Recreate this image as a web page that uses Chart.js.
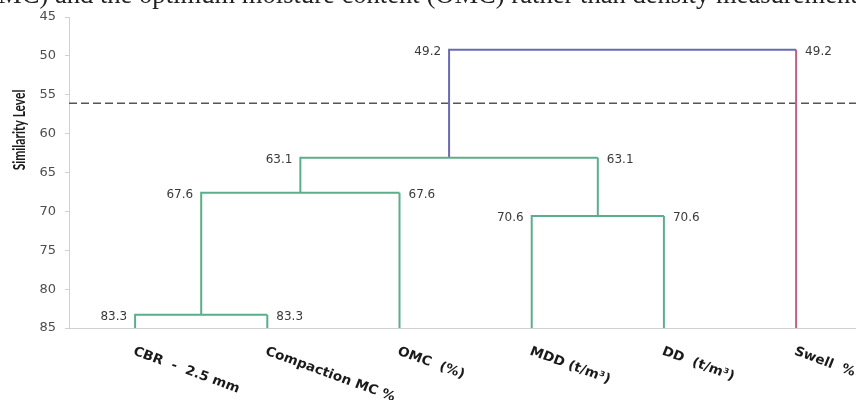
<!DOCTYPE html>
<html>
<head>
<meta charset="utf-8">
<script src="https://cdn.jsdelivr.net/npm/chart.js@4.4.1/dist/chart.umd.min.js"></script>
<style>
html, body { margin: 0; padding: 0; background: #fff; overflow: hidden; }
#wrap { position: relative; width: 856px; height: 400px; }
#cap { position: absolute; left: -2px; top: -19px; font: 26.6px 'Liberation Serif', serif; line-height: 27px; color: #222; white-space: nowrap; z-index: 2; }
</style>
</head>
<body>
<div id="wrap">
  <canvas id="plot" width="856" height="400"></canvas>
  <div id="cap">MC) and the optimum moisture content (OMC) rather than density measurements</div>
</div>
<script>
// leaves of the dendrogram (x axis)
const leaves = ['CBR  -  2.5 mm', 'Compaction MC %', 'OMC  (%)', 'MDD (t/m\u00b3)', 'DD  (t/m\u00b3)', 'Swell  %'];

// merges: index < 6 is a leaf, index >= 6 is the merge (index - 6)
const mergeLeft  = [0, 6, 3, 7, 9];
const mergeRight = [1, 2, 4, 8, 5];
const mergeLevel = [83.3, 67.6, 70.6, 63.1, 49.2];
const leftColor  = ['#5cae8b', '#5cae8b', '#5cae8b', '#5cae8b', '#6a6ab4'];
const rightColor = ['#5cae8b', '#5cae8b', '#5cae8b', '#5cae8b', '#c4607f'];

const cutLevel = 56.1;
const yTicks = [45, 50, 55, 60, 65, 70, 75, 80, 85];
const baseLevel = 85;

// positions / heights of every node
const pos = leaves.map((_, i) => i);
const height = leaves.map(() => baseLevel);
mergeLeft.forEach((l, k) => {
    pos.push((pos[l] + pos[mergeRight[k]]) / 2);
    height.push(mergeLevel[k]);
});

const datasets = [];
mergeLeft.forEach((l, k) => {
    const r = mergeRight[k];
    const lvl = mergeLevel[k];
    datasets.push({
        data: [{x: pos[l], y: height[l]}, {x: pos[l], y: lvl}, {x: pos[r], y: lvl}],
        borderColor: leftColor[k]
    });
    datasets.push({
        data: [{x: pos[r], y: lvl}, {x: pos[r], y: height[r]}],
        borderColor: rightColor[k]
    });
});
datasets.forEach(d => { d.borderWidth = 2; d.pointRadius = 0; d.tension = 0; d.fill = false; });

const xMax = 5.453;
datasets.push({
    data: [{x: -0.5, y: cutLevel}, {x: xMax, y: cutLevel}],
    borderColor: '#555',
    borderWidth: 1.5,
    borderDash: [8, 4],
    pointRadius: 0,
    fill: false
});

const labelPlugin = {
    id: 'dendroLabels',
    afterDraw(chart) {
        const ctx = chart.ctx;
        const x = chart.scales.x, y = chart.scales.y;
        ctx.save();

        // level numbers at both ends of every link
        ctx.font = '12px "DejaVu Sans"';
        ctx.fillStyle = '#3a3a3a';
        ctx.textBaseline = 'middle';
        mergeLevel.forEach((lvl, k) => {
            const py = y.getPixelForValue(lvl) + 2;
            const xl = x.getPixelForValue(pos[mergeLeft[k]]);
            const xr = x.getPixelForValue(pos[mergeRight[k]]);
            ctx.textAlign = 'right';
            ctx.fillText(lvl.toFixed(1), xl - 8, py);
            ctx.textAlign = 'left';
            ctx.fillText(lvl.toFixed(1), xr + 9, py);
        });

        // rotated leaf names (the source picture is a bit stretched sideways)
        ctx.font = 'bold 13px "DejaVu Sans"';
        ctx.fillStyle = '#1a1a1a';
        leaves.forEach((name, i) => {
            ctx.save();
            ctx.translate(x.getPixelForValue(i) + 1, y.bottom + 17);
            ctx.scale(1.05, 1);
            ctx.rotate(21 * Math.PI / 180);
            ctx.textAlign = 'left';
            ctx.textBaseline = 'top';
            ctx.fillText(name, 0, 0);
            ctx.restore();
        });

        // y axis title
        ctx.translate(20, 130);
        ctx.rotate(-Math.PI / 2);
        ctx.scale(1, 1.35);
        ctx.font = 'bold 12px Lato';
        ctx.fillStyle = '#1a1a1a';
        ctx.textAlign = 'center';
        ctx.textBaseline = 'middle';
        ctx.fillText('Similarity Level', 0, 0);
        ctx.restore();
    }
};

const ctx = document.getElementById('plot').getContext('2d');
const myChart = new Chart(ctx, {
    type: 'line',
    data: { datasets: datasets },
    options: {
        responsive: false,
        animation: false,
        layout: { padding: { top: 17, bottom: 72, left: 0, right: 0 } },
        plugins: { legend: { display: false }, tooltip: { enabled: false } },
        scales: {
            x: {
                type: 'linear',
                min: -0.5,
                max: xMax,
                afterFit(s) { s.height = 0; },
                ticks: { display: false },
                grid: { display: false, drawTicks: false },
                border: { color: '#d0d0d0', width: 1 }
            },
            y: {
                type: 'linear',
                reverse: true,
                min: 45,
                max: 85,
                afterFit(s) { s.width = 69; },
                afterBuildTicks(s) { s.ticks = yTicks.map(v => ({value: v})); },
                ticks: { font: { family: 'DejaVu Sans', size: 13 }, color: '#4d4d4d', padding: 9 },
                grid: { drawOnChartArea: false, drawTicks: true, tickLength: 4, color: '#d0d0d0' },
                border: { color: '#d0d0d0', width: 1 }
            }
        }
    },
    plugins: [labelPlugin]
});
</script>
</body>
</html>
